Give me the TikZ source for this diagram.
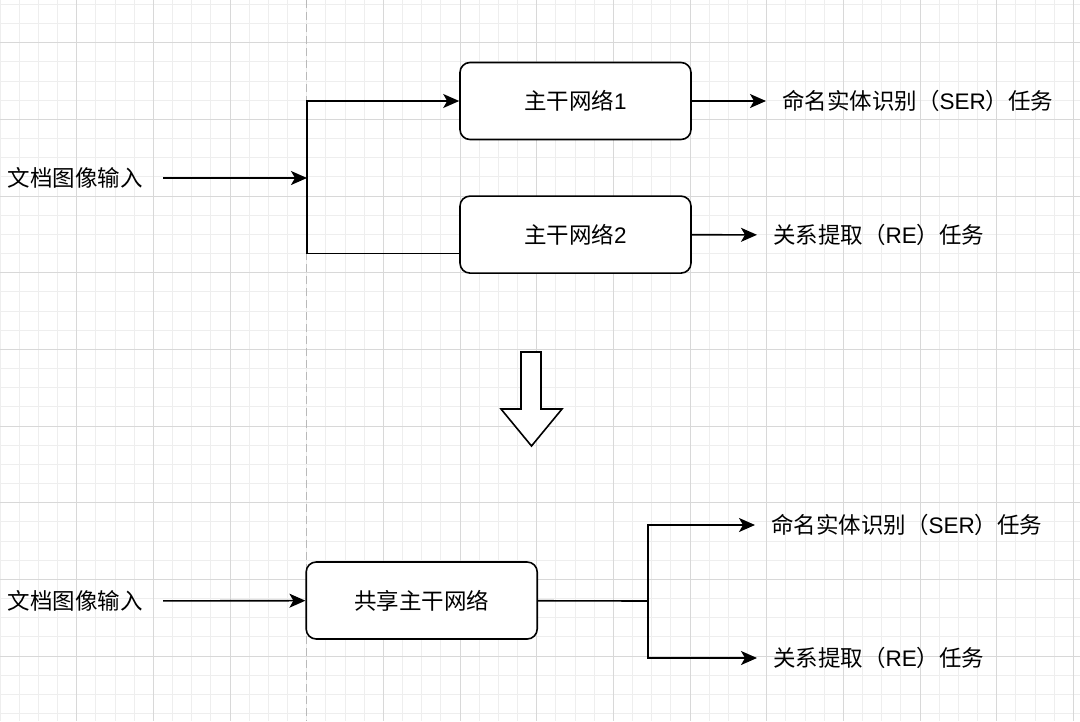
\documentclass[tikz,border=0pt]{standalone}
\usepackage{fontspec}
\setmainfont{Noto Sans CJK SC}
\newfontfamily\helv{Liberation Sans}
\usetikzlibrary{arrows.meta,positioning}
\definecolor{gridminor}{RGB}{238,238,238}
\definecolor{gridmajor}{RGB}{216,216,216}
\definecolor{guidegray}{RGB}{185,185,185}

\begin{document}
\begin{tikzpicture}[
        x=1pt, y=-1pt,
        font=\fontsize{22.5}{26}\selectfont,
        backbone/.style={rectangle, rounded corners=10pt, draw, line width=1.6pt, fill=white, minimum width=231pt, minimum height=77pt, inner sep=0pt, align=center},
        intxt/.style={inner sep=0pt, outer xsep=20pt},
        tasktxt/.style={inner sep=0pt, outer xsep=16pt, anchor=west},
        arrow/.style={-{Stealth[length=16pt,width=14pt,inset=4pt]}, line width=1.6pt},
        link/.style={line width=1.6pt},
        minorgrid/.style={draw=gridminor, line width=1pt},
        majorgrid/.style={draw=gridmajor, line width=1pt},
        guide/.style={draw=guidegray, line width=1pt, dash pattern=on 8pt off 4pt}
    ]
        \useasboundingbox (0,0) rectangle (1080,721);
        \fill[white] (0,0) rectangle (1080,721);
        \foreach \i in {0,...,56} {
            \draw[minorgrid] ({19.1667*\i},0) -- ({19.1667*\i},721);
        }
        \foreach \j in {0,...,37} {
            \draw[minorgrid] (0,{4.33+19.1667*\j}) -- (1080,{4.33+19.1667*\j});
        }
        \foreach \i in {1,2,3,5,6,...,14} {
            \draw[majorgrid] ({76.667*\i},0) -- ({76.667*\i},721);
        }
        \foreach \j in {0,...,8} {
            \draw[majorgrid] (0,{42.67+76.667*\j}) -- (1080,{42.67+76.667*\j});
        }
        \draw[guide] (306.7,0) -- (306.7,721);

        \node[intxt] (in1) at (75.5,178) {文档图像输入};
        \coordinate (fork1) at (307,178);
        \node[backbone] (bb1) at (575.5,101) {主干网络{\helv 1}};
        \node[backbone, below=55pt of bb1] (bb2) {主干网络{\helv 2}};
        \node[tasktxt] (ser1) at (766,101) {命名实体识别（{\helv SER}）任务};
        \node[tasktxt] (re1) at (757,235) {关系提取（{\helv RE}）任务};

        \draw[arrow] (in1) -- (fork1);
        \draw[arrow] (fork1) |- (bb1);
        \draw[link] (fork1) |- ([yshift=-19pt]bb2.west);
        \draw[arrow] (bb1) -- (ser1);
        \draw[arrow] (bb2) -- (re1);

        \draw[line width=1.6pt, fill=white] (521,352) -- (541,352) -- (541,409) -- (562,409) -- (531.5,446) -- (501,409) -- (521,409) -- cycle;

        \node[intxt] (in2) at (75.5,601) {文档图像输入};
        \node[backbone] (shared) at (421.7,600.5) {共享主干网络};
        \coordinate (fork2) at (648,601);
        \node[tasktxt] (ser2) at (755,525) {命名实体识别（{\helv SER}）任务};
        \node[tasktxt] (re2) at (757,658) {关系提取（{\helv RE}）任务};

        \draw[arrow] (in2) -- (shared);
        \draw[link] (shared) -- (fork2);
        \draw[arrow] (fork2) |- (ser2);
        \draw[arrow] (fork2) |- (re2);
    \end{tikzpicture}
\end{document}
